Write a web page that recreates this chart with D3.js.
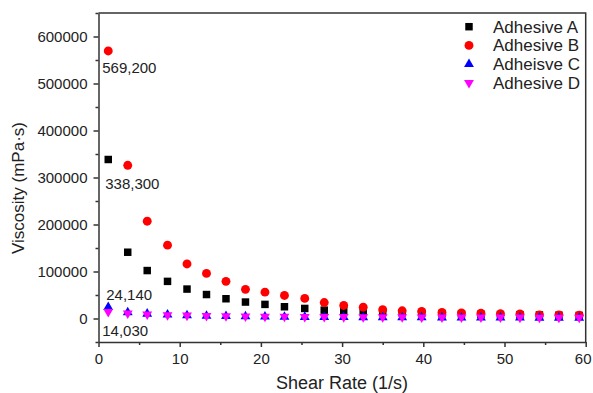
<!DOCTYPE html>
<html lang="en">
<head>
<meta charset="UTF-8" />
<title>Viscosity vs Shear Rate</title>
<script src="https://d3js.org/d3.v7.min.js"></script>
<style>
  body { margin: 0; background: #fff; }
  svg { display: block; font-family: "Liberation Sans", Arial, sans-serif; }
  .axis path, .axis line { stroke: #333; stroke-width: 1.5; }
  .axis text { fill: #222; font-size: 15px; }
</style>
</head>
<body>
<div id="chart"></div>
<script>
// shear rate (1/s)
const shear = [1.2, 3.6, 6.0, 8.5, 10.9, 13.3, 15.7, 18.1, 20.5, 22.9, 25.4, 27.8, 30.2,
  32.6, 35.0, 37.4, 39.8, 42.3, 44.7, 47.1, 49.5, 51.9, 54.3, 56.7, 59.2];

// viscosity (mPa·s)
const adhesiveA = [338300, 141000, 102000, 79000, 62600, 51000, 42000, 35000, 30000, 25000, 21400,
  17800, 16400, 15700, 13500, 12000, 11000, 10000, 9500, 9000, 8500, 8000, 7500, 7000, 6500];
const adhesiveB = [569200, 326000, 207000, 156000, 116000, 96000, 79000, 62000, 56000, 49000, 42700,
  34000, 27800, 24000, 18600, 16400, 15000, 12800, 12000, 11400, 10000, 9700, 7800, 7800, 7100];
const adhesiveC = [24140, 13000, 10000, 8000, 6500, 5500, 4800, 4200, 3800, 3400, 3100, 2900, 2700,
  2500, 2300, 2200, 2100, 2000, 1900, 1800, 1700, 1600, 1500, 1500, 1400];
const adhesiveD = [14030, 11000, 9000, 7500, 6500, 5800, 5200, 4700, 4300, 4000, 3700, 3500, 3300,
  3100, 2900, 2800, 2700, 2600, 2500, 2400, 2300, 2200, 2100, 2000, 2000];

const seriesNames = ["Adhesive A", "Adhesive B", "Adheisve C", "Adhesive D"];
const xTicks = [0, 10, 20, 30, 40, 50, 60];
const yTicks = [0, 100000, 200000, 300000, 400000, 500000, 600000];

const W = 593, H = 393;
const plot = { left: 98.5, right: 585.7, top: 13, bottom: 342 };

const svg = d3.select("#chart").append("svg")
  .attr("width", W).attr("height", H);

const x = d3.scaleLinear().domain([0, 60]).range([plot.left, plot.right]);
const y = d3.scaleLinear().domain([-50000, 650000]).range([plot.bottom, plot.top]);

// minor ticks
svg.append("g").attr("class", "axis")
  .attr("transform", `translate(0,${plot.bottom})`)
  .call(d3.axisBottom(x).tickValues(d3.range(5, 60, 10)).tickSize(3).tickFormat(""))
  .select(".domain").remove();
svg.append("g").attr("class", "axis")
  .attr("transform", `translate(${plot.left},0)`)
  .call(d3.axisLeft(y).tickValues(d3.range(-50000, 650001, 100000)).tickSize(3).tickFormat(""))
  .select(".domain").remove();

// major ticks
const xAxis = svg.append("g").attr("class", "axis")
  .attr("transform", `translate(0,${plot.bottom})`)
  .call(d3.axisBottom(x).tickValues(xTicks).tickSize(5).tickPadding(6).tickSizeOuter(0));
// keep the last label inside the page
xAxis.selectAll(".tick text").filter(d => d === 60).attr("dx", "-3");

svg.append("g").attr("class", "axis")
  .attr("transform", `translate(${plot.left},0)`)
  .call(d3.axisLeft(y).tickValues(yTicks).tickFormat(d3.format("d"))
    .tickSize(5).tickPadding(6).tickSizeOuter(0));

// frame top/right
svg.append("path")
  .attr("d", `M${plot.left},${plot.top}H${plot.right}V${plot.bottom}`)
  .attr("fill", "none").attr("stroke", "#333").attr("stroke-width", 1.5);

// axis titles
svg.append("text")
  .attr("x", 342).attr("y", 389)
  .attr("text-anchor", "middle").attr("fill", "#222")
  .style("font-size", "18px").text("Shear Rate (1/s)");
svg.append("text")
  .attr("transform", "translate(24,188) rotate(-90)")
  .attr("text-anchor", "middle").attr("fill", "#222")
  .style("font-size", "17px").text("Viscosity (mPa·s)");

const tri = d3.symbol().type(d3.symbolTriangle).size(42);
const series = [
  { values: adhesiveA, color: "#000000", path: d3.symbol().type(d3.symbolSquare).size(56)(), rot: 0 },
  { values: adhesiveB, color: "#ff0000", path: d3.symbol().type(d3.symbolCircle).size(62)(), rot: 0 },
  { values: adhesiveC, color: "#0000ff", path: tri(), rot: 0 },
  { values: adhesiveD, color: "#ff00ff", path: tri(), rot: 180 }
];

series.forEach(s => {
  svg.append("g").selectAll("path")
    .data(s.values)
    .join("path")
    .attr("d", s.path)
    .attr("fill", s.color)
    .attr("transform", (d, i) => `translate(${x(shear[i])},${y(d)}) rotate(${s.rot})`);
});

// value labels at the first point
const fmt = d3.format(",");
const labelOffsets = [[-3, 30], [-6, 22], [-2, -7], [-6, 24]];
series.forEach((s, k) => {
  svg.append("text")
    .attr("x", x(shear[0]) + labelOffsets[k][0])
    .attr("y", y(s.values[0]) + labelOffsets[k][1])
    .attr("fill", "#222").style("font-size", "15px")
    .text(fmt(s.values[0]));
});

// legend
const lg = svg.append("g");
series.forEach((s, k) => {
  const ly = 26.7 + k * 18.7;
  lg.append("path").attr("d", s.path).attr("fill", s.color)
    .attr("transform", `translate(469,${ly}) rotate(${s.rot})`);
  lg.append("text").attr("x", 493).attr("y", ly)
    .attr("dy", "0.35em").attr("fill", "#222")
    .style("font-size", "17px").text(seriesNames[k]);
});
</script>
</body>
</html>
